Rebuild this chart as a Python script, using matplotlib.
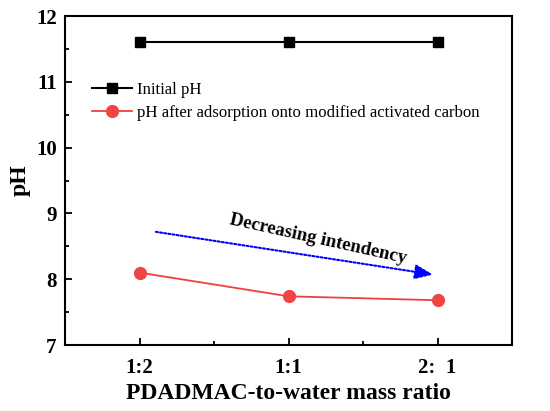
import matplotlib
matplotlib.use("Agg")
import matplotlib.pyplot as plt
import numpy as np
from matplotlib.ticker import MultipleLocator

plt.rcParams['font.family'] = ['Liberation Serif', 'DejaVu Serif']

# data
ratios = ['1:2', '1:1', '2:  1']
initial_ph = [11.6, 11.6, 11.6]
after_ph = [8.10, 7.74, 7.68]

x = np.arange(len(ratios))

fig = plt.figure(figsize=(5.5, 4.11), dpi=100)
ax = fig.add_axes([65 / 550, 1 - 345 / 411, (512 - 65) / 550, (345 - 16) / 411])

ax.plot(x, initial_ph, '-s', color='black', lw=1.5, markersize=7,
        label='Initial pH')
ax.plot(x, after_ph, '-o', color='#ee4040', mfc='#f04545', mec='#f04545',
        lw=1.3, markersize=8.5,
        label='pH after adsorption onto modified activated carbon')

# trend arrow
ax.annotate('', xy=(1.97, 8.07), xytext=(0.11, 8.72),
            arrowprops=dict(arrowstyle='-|>,head_length=1.1,head_width=0.45',
                            color='blue', lw=1.5, linestyle=(0, (1, 1)),
                            shrinkA=0, shrinkB=0))
ax.text(1.2, 8.61, 'Decreasing intendency', rotation=-12.5, ha='center',
        va='center', fontsize=13.5, fontweight='bold')

ax.set_xlim(-0.5, 2.5)
ax.set_ylim(7, 12)
ax.set_xticks(x)
ax.set_xticklabels(ratios)
ax.xaxis.set_minor_locator(MultipleLocator(0.5))
ax.yaxis.set_major_locator(MultipleLocator(1))
ax.yaxis.set_minor_locator(MultipleLocator(0.5))
ax.tick_params(which='both', direction='in', top=False, right=False,
               width=1.3, labelsize=15)
ax.tick_params(which='major', length=5)
ax.tick_params(which='minor', length=3)
ax.tick_params(axis='x', pad=9)
ax.tick_params(axis='y', pad=6)
for lab in ax.get_xticklabels() + ax.get_yticklabels():
    lab.set_fontweight('bold')
for sp in ax.spines.values():
    sp.set_linewidth(1.5)

ax.set_xlabel('PDADMAC-to-water mass ratio', fontsize=17, fontweight='bold',
              labelpad=4)
ax.set_ylabel('pH', fontsize=17, fontweight='bold', labelpad=4)

ax.legend(loc='upper left', bbox_to_anchor=(0.045, 0.82), frameon=False,
          fontsize=12.1, handlelength=2.4, handletextpad=0.3, labelspacing=0.42,
          borderaxespad=0)

fig.savefig('out.png', dpi=100)
